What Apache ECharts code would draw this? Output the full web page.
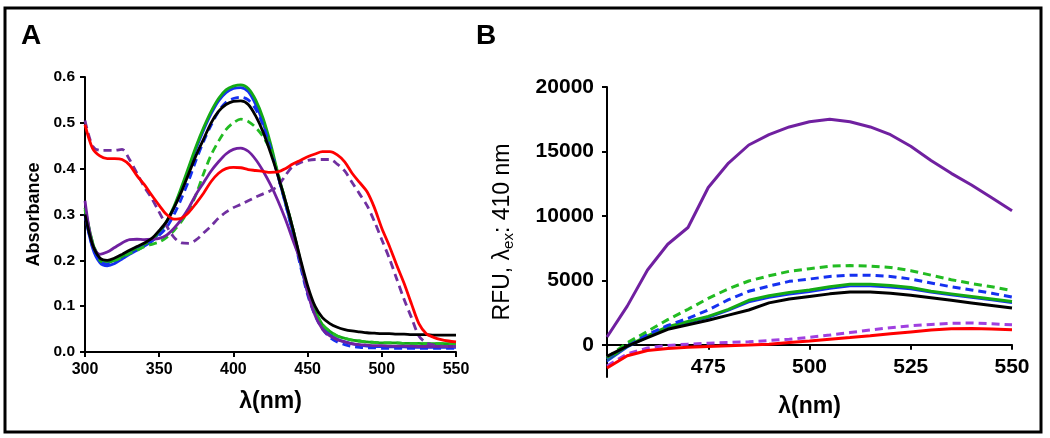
<!DOCTYPE html>
<html>
<head>
<meta charset="utf-8">
<script src="https://cdn.jsdelivr.net/npm/echarts@6/dist/echarts.min.js"></script>
<style>
html,body{margin:0;padding:0;background:#fff;}
#chart{width:1050px;height:438px;}
</style>
</head>
<body>
<div id="chart"></div>
<script>
// ---------- Panel A: absorbance ----------
const wlA = [300,305,310,315,320,325,330,335,340,345,350,355,360,365,370,375,380,385,390,395,400,405,410,415,420,425,430,435,440,445,450,455,460,465,470,475,480,485,490,495,500,505,510,515,520,525,530,535,540,545,550];
const absGreen = [0.315,0.24,0.2,0.195,0.2,0.208,0.218,0.227,0.235,0.245, 0.262,0.285,0.318,0.36,0.405,0.45,0.49,0.525,0.553,0.572, 0.58,0.583,0.575,0.55,0.51,0.455,0.39,0.33,0.27,0.2, 0.135,0.09,0.06,0.045,0.035,0.03,0.026,0.024,0.022,0.021, 0.02,0.02,0.02,0.019,0.019,0.019,0.018,0.018,0.018,0.018,0.018];
const absBlue = [0.30,0.228,0.195,0.188,0.193,0.203,0.213,0.222,0.231,0.242, 0.26,0.283,0.315,0.355,0.4,0.445,0.485,0.52,0.548,0.566, 0.575,0.577,0.568,0.54,0.5,0.445,0.385,0.325,0.262,0.195, 0.13,0.085,0.055,0.038,0.028,0.022,0.018,0.015,0.013,0.012, 0.012,0.011,0.011,0.011,0.01,0.01,0.01,0.01,0.01,0.01,0.01];
const absBlueDash = [0.30,0.23,0.198,0.192,0.196,0.205,0.215,0.224,0.232,0.242, 0.255,0.272,0.3,0.335,0.375,0.42,0.46,0.495,0.525,0.545, 0.553,0.556,0.55,0.53,0.495,0.445,0.385,0.325,0.26,0.19, 0.125,0.08,0.05,0.032,0.022,0.016,0.012,0.01,0.009,0.009, 0.008,0.008,0.008,0.008,0.008,0.008,0.008,0.008,0.008,0.008,0.008];
const absGreenDash = [0.31,0.24,0.205,0.198,0.2,0.207,0.215,0.222,0.23,0.235, 0.24,0.25,0.265,0.285,0.31,0.345,0.39,0.43,0.46,0.485, 0.5,0.508,0.503,0.49,0.47,0.44,0.39,0.33,0.27,0.2, 0.135,0.09,0.06,0.045,0.035,0.03,0.026,0.024,0.022,0.021, 0.02,0.02,0.02,0.019,0.019,0.019,0.018,0.018,0.018,0.018,0.018];
const absBlack = [0.30,0.235,0.205,0.2,0.205,0.213,0.222,0.23,0.238,0.248, 0.265,0.285,0.315,0.35,0.39,0.43,0.465,0.5,0.525,0.54, 0.547,0.548,0.54,0.515,0.48,0.435,0.385,0.33,0.27,0.205, 0.145,0.1,0.075,0.062,0.054,0.049,0.046,0.044,0.042,0.041, 0.04,0.04,0.039,0.039,0.038,0.038,0.038,0.037,0.037,0.037,0.037];
const absPurple = [0.33,0.235,0.213,0.218,0.228,0.238,0.245,0.246,0.245,0.246, 0.248,0.255,0.27,0.29,0.315,0.345,0.37,0.395,0.415,0.432, 0.442,0.445,0.438,0.42,0.395,0.365,0.33,0.29,0.245,0.2, 0.13,0.08,0.05,0.035,0.027,0.022,0.018,0.016,0.015,0.014, 0.014,0.013,0.013,0.013,0.013,0.012,0.012,0.012,0.012,0.012,0.012];
const absPurpleDash = [0.505,0.45,0.44,0.44,0.44,0.442,0.42,0.39,0.36,0.335, 0.305,0.275,0.25,0.238,0.237,0.245,0.26,0.275,0.292,0.305, 0.315,0.322,0.33,0.338,0.345,0.352,0.362,0.385,0.405,0.413, 0.418,0.42,0.42,0.42,0.41,0.395,0.37,0.345,0.32,0.285, 0.245,0.205,0.16,0.115,0.075,0.035,0.02,0.015,0.013,0.012,0.012];
const absRed = [0.496,0.445,0.428,0.422,0.422,0.42,0.408,0.385,0.365,0.342, 0.32,0.3,0.29,0.292,0.305,0.325,0.347,0.372,0.39,0.4, 0.403,0.402,0.398,0.396,0.394,0.392,0.393,0.4,0.41,0.418, 0.426,0.432,0.437,0.437,0.43,0.415,0.39,0.37,0.35,0.315, 0.27,0.232,0.19,0.15,0.105,0.062,0.04,0.032,0.027,0.024,0.022];
const ticksA_y = [0, 0.1, 0.2, 0.3, 0.4, 0.5, 0.6];
const ticksA_x = [300, 350, 400, 450, 500, 550];

// ---------- Panel B: fluorescence ----------
const wlB = [450,455,460,465,470,475,480,485,490,495,500,505,510,515,520,525,530,535,540,545,550];
const rfuPurple = [600,3000,5800,7800,9100,12200,14100,15500,16300,16900,17300,17500,17300,16900,16300,15400,14300,13300,12400,11400,10400];
const rfuGreenDash = [-1000,150,1050,1950,2750,3600,4350,4950,5350,5700,5900,6100,6150,6100,6000,5750,5400,5050,4750,4500,4200];
const rfuBlueDash = [-1100,0,800,1500,2050,2700,3500,4150,4550,4920,5100,5300,5400,5400,5300,5100,4800,4500,4250,4000,3700];
const rfuGreen = [-1150,-100,700,1400,1800,2200,2750,3450,3800,4050,4250,4500,4700,4700,4600,4450,4150,3950,3750,3550,3350];
const rfuBlue = [-1300,-200,600,1300,1700,2100,2650,3300,3650,3900,4100,4350,4550,4550,4450,4300,4050,3850,3650,3450,3250];
const rfuBlack = [-900,-100,550,1200,1550,1900,2300,2700,3250,3550,3750,3950,4100,4100,4000,3850,3650,3450,3250,3050,2850];
const rfuRed = [-1800,-850,-450,-280,-200,-130,-80,-20,50,180,300,430,560,700,850,1000,1150,1250,1270,1220,1160];
const rfuPurpleDash = [-1650,-700,-250,-50,50,120,180,230,330,430,580,750,950,1150,1330,1480,1580,1670,1690,1630,1550];
const ticksB_y = [0, 5000, 10000, 15000, 20000];
const ticksB_x = [475, 500, 525, 550];

const FONT = "'Liberation Sans', Arial, sans-serif";
const pairs = (xs, ys) => xs.map((x, i) => [x, ys[i]]);

function mk(name, xs, ys, color, dashed, idx, width, smooth) {
  return {
    name, type: 'line', xAxisIndex: idx, yAxisIndex: idx,
    data: pairs(xs, ys), showSymbol: false, symbol: 'none',
    smooth: smooth, animation: false, clip: false,
    lineStyle: { color, width, type: dashed ? [8, 5] : 'solid' }
  };
}

const tick = () => ({ show: true, length: 5, lineStyle: { color: '#000', width: 2 } });

// grid B: y from -2500 (bottom) to 20000 (top); the x axis is drawn at y = 0
const gridB = { left: 607, top: 87, width: 405, height: 290 };
const yMinB = -2500, yMaxB = 20000;
const zeroOffsetB = -gridB.height * (0 - yMinB) / (yMaxB - yMinB);

const chart = echarts.init(document.getElementById('chart'), null, { renderer: 'canvas' });
chart.setOption({
  backgroundColor: '#fff',
  animation: false,
  grid: [
    { left: 85, top: 77, width: 371, height: 275, containLabel: false, outerBoundsMode: 'none' },
    Object.assign({ containLabel: false, outerBoundsMode: 'none' }, gridB)
  ],
  xAxis: [
    {
      gridIndex: 0, type: 'value', min: 300, max: 550, interval: 50,
      axisLine: { show: true, onZero: false, lineStyle: { color: '#000', width: 2 } },
      axisTick: Object.assign(tick(), { customValues: ticksA_x }), splitLine: { show: false },
      axisLabel: { color: '#000', fontFamily: FONT, fontWeight: 'bold', fontSize: 16, margin: 10, customValues: ticksA_x },
      name: 'λ(nm)', nameLocation: 'middle', nameGap: 38,
      nameTextStyle: { color: '#000', fontFamily: FONT, fontWeight: 'bold', fontSize: 23 }
    },
    {
      gridIndex: 1, type: 'value', min: 450, max: 550, interval: 25,
      position: 'bottom', offset: zeroOffsetB,
      axisLine: { show: true, onZero: false, lineStyle: { color: '#000', width: 2 } },
      axisTick: Object.assign(tick(), { customValues: ticksB_x }),
      splitLine: { show: false },
      axisLabel: { color: '#000', fontFamily: FONT, fontWeight: 'bold', fontSize: 21, margin: 12, customValues: ticksB_x },
      name: 'λ(nm)', nameLocation: 'middle', nameGap: 50,
      nameTextStyle: { color: '#000', fontFamily: FONT, fontWeight: 'bold', fontSize: 23 }
    }
  ],
  yAxis: [
    {
      gridIndex: 0, type: 'value', min: 0, max: 0.6, interval: 0.1,
      axisLine: { show: true, onZero: false, lineStyle: { color: '#000', width: 2 } },
      axisTick: Object.assign(tick(), { customValues: ticksA_y }), splitLine: { show: false },
      axisLabel: { color: '#000', fontFamily: FONT, fontWeight: 'bold', fontSize: 15.5, margin: 10,
        customValues: ticksA_y, formatter: v => v.toFixed(1) },
      name: 'Absorbance', nameLocation: 'middle', nameGap: 42,
      nameTextStyle: { color: '#000', fontFamily: FONT, fontWeight: 'bold', fontSize: 18 }
    },
    {
      gridIndex: 1, type: 'value', min: yMinB, max: yMaxB,
      axisLine: { show: true, onZero: false, lineStyle: { color: '#000', width: 2 } },
      axisTick: Object.assign(tick(), { customValues: ticksB_y }),
      splitLine: { show: false },
      axisLabel: { color: '#000', fontFamily: FONT, fontWeight: 'bold', fontSize: 21, margin: 13,
        customValues: ticksB_y, formatter: v => String(v) },
      name: 'RFU, λ{sub|ex}: 410 nm', nameLocation: 'middle', nameGap: 91,
      nameTextStyle: { color: '#000', fontFamily: FONT, fontWeight: 'normal', fontSize: 23,
        rich: { sub: { fontFamily: FONT, fontSize: 15, color: '#000', padding: [12, 0, 0, 0] } } }
    }
  ],
  graphic: [
    { type: 'rect', shape: { x: 5, y: 8, width: 1036, height: 424 }, style: { fill: 'none', stroke: '#000', lineWidth: 3 }, silent: true },
    { type: 'text', x: 21, y: 22, style: { text: 'A', font: "bold 28px 'Liberation Sans', Arial, sans-serif", fill: '#000' } },
    { type: 'text', x: 476, y: 22, style: { text: 'B', font: "bold 28px 'Liberation Sans', Arial, sans-serif", fill: '#000' } }
  ],
  series: [
    mk('A blue', wlA, absBlue, '#1530F0', false, 0, 2.8, 0.3),
    mk('A green', wlA, absGreen, '#14AA14', false, 0, 2.8, 0.3),
    mk('A blue dashed', wlA, absBlueDash, '#1530F0', true, 0, 2.8, 0.3),
    mk('A green dashed', wlA, absGreenDash, '#22BB22', true, 0, 2.8, 0.3),
    mk('A purple', wlA, absPurple, '#7020A0', false, 0, 2.8, 0.3),
    mk('A purple dashed', wlA, absPurpleDash, '#7030A0', true, 0, 2.8, 0.3),
    mk('A black', wlA, absBlack, '#000000', false, 0, 2.8, 0.3),
    mk('A red', wlA, absRed, '#FF0000', false, 0, 2.8, 0.3),

    mk('B blue', wlB, rfuBlue, '#1530F0', false, 1, 2, false),
    mk('B green', wlB, rfuGreen, '#14AA14', false, 1, 3, false),
    mk('B blue dashed', wlB, rfuBlueDash, '#1530F0', true, 1, 3, false),
    mk('B green dashed', wlB, rfuGreenDash, '#22BB22', true, 1, 3, false),
    mk('B purple', wlB, rfuPurple, '#7020A0', false, 1, 3, false),
    mk('B purple dashed', wlB, rfuPurpleDash, '#A040E0', true, 1, 3, false),
    mk('B black', wlB, rfuBlack, '#000000', false, 1, 3, false),
    mk('B red', wlB, rfuRed, '#FF0000', false, 1, 3, false)
  ]
});
</script>
</body>
</html>
